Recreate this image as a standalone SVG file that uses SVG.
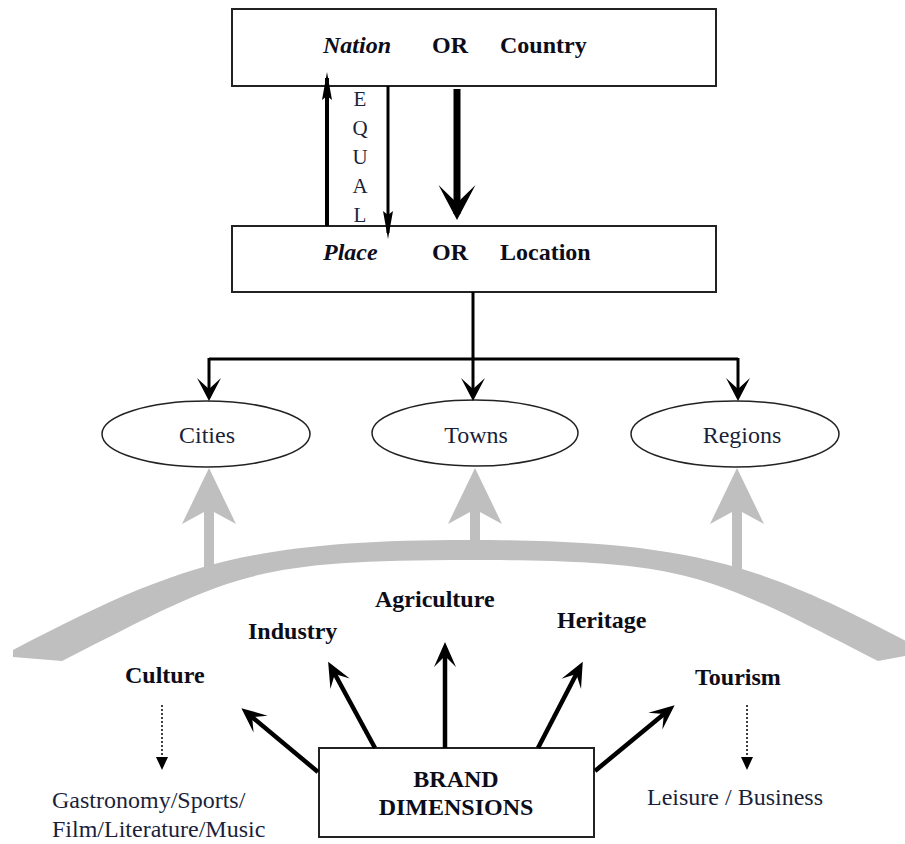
<svg xmlns="http://www.w3.org/2000/svg" width="905" height="844" viewBox="0 0 905 844">
<style>
.box{fill:#fff;stroke:#222;stroke-width:2}
.ell{fill:#fff;stroke:#222;stroke-width:1.5}
.t{font-family:"Liberation Serif","Times New Roman",serif;font-size:24px;fill:#1b1f3a}
.b{font-family:"Liberation Serif","Times New Roman",serif;font-size:24px;font-weight:bold;fill:#0d0d1a}
.bi{font-family:"Liberation Serif","Times New Roman",serif;font-size:24px;font-weight:bold;font-style:italic;fill:#0d0d1a}
.eq{font-family:"Liberation Serif","Times New Roman",serif;font-size:21px;fill:#1b1f3a}
.c{fill:none;stroke:#000}
.gray{fill:#bfbfbf}
</style>
<defs>
<marker id="ah" markerUnits="userSpaceOnUse" viewBox="-20 -15 30 30" markerWidth="30" markerHeight="30" refX="0" refY="0" orient="auto">
<path d="M6,0 L-17,-12 L-6,0 L-17,12 Z" fill="#000"/>
</marker>
<marker id="ah2" markerUnits="userSpaceOnUse" viewBox="-25 -15 35 30" markerWidth="35" markerHeight="30" refX="0" refY="0" orient="auto">
<path d="M6,0 L-19,-11 L-8,0 L-19,11 Z" fill="#000"/>
</marker>
<marker id="ahThin" markerUnits="userSpaceOnUse" viewBox="-25 -8 35 16" markerWidth="35" markerHeight="16" refX="0" refY="0" orient="auto">
<path d="M6,0 L-22,-5 L-18,0 L-22,5 Z" fill="#000"/>
</marker>
<marker id="ahBig" markerUnits="userSpaceOnUse" viewBox="-32 -20 42 40" markerWidth="42" markerHeight="40" refX="0" refY="0" orient="auto">
<path d="M6,0 L-29,-18.5 L-11,0 L-29,18.5 Z" fill="#000"/>
</marker>
<marker id="ahDot" markerUnits="userSpaceOnUse" viewBox="-15 -8 20 16" markerWidth="20" markerHeight="16" refX="0" refY="0" orient="auto">
<path d="M3,0 L-10,-6 L-10,6 Z" fill="#000"/>
</marker>
</defs>

<g id="nation">
<rect class="box" x="232" y="9" width="484" height="77"/>
<text class="bi" x="323" y="53">Nation</text>
<text class="b" x="432" y="53">OR</text>
<text class="b" x="500" y="53">Country</text>
</g>

<g id="place">
<rect class="box" x="232" y="226" width="484" height="66"/>
<text class="bi" x="323" y="260">Place</text>
<text class="b" x="432" y="260">OR</text>
<text class="b" x="500" y="260">Location</text>
</g>

<g id="equal-label">
<text class="eq" x="360" y="106" text-anchor="middle">E</text>
<text class="eq" x="360" y="135" text-anchor="middle">Q</text>
<text class="eq" x="360" y="164" text-anchor="middle">U</text>
<text class="eq" x="360" y="193" text-anchor="middle">A</text>
<text class="eq" x="360" y="222" text-anchor="middle">L</text>
</g>

<g id="cities">
<ellipse class="ell" cx="206" cy="434" rx="104" ry="33"/>
<text class="t" x="207" y="443" text-anchor="middle">Cities</text>
</g>
<g id="towns">
<ellipse class="ell" cx="475" cy="433" rx="103" ry="33"/>
<text class="t" x="476" y="443" text-anchor="middle">Towns</text>
</g>
<g id="regions">
<ellipse class="ell" cx="735" cy="434" rx="104" ry="33"/>
<text class="t" x="742" y="443" text-anchor="middle">Regions</text>
</g>

<g id="brand-arc">
<path class="gray" d="M13,650 C173,567 240,540 470,540 C700,540 767,567 927,652 L878,661 C708,574 690,560 470,560 C250,560 232,574 62,661 L13,657 Z"/>
<path class="gray" d="M209,468 L236,524 L214,512 L214,575 L204,575 L204,512 L182,524 Z"/>
<path class="gray" d="M475,468 L502,524 L480,512 L480,550 L470,550 L470,512 L448,524 Z"/>
<path class="gray" d="M737,468 L764,524 L742,512 L742,578 L732,578 L732,512 L710,524 Z"/>
</g>

<g id="culture"><text class="b" x="125" y="683">Culture</text></g>
<g id="industry"><text class="b" x="248" y="639">Industry</text></g>
<g id="agriculture"><text class="b" x="375" y="607">Agriculture</text></g>
<g id="heritage"><text class="b" x="557" y="628">Heritage</text></g>
<g id="tourism"><text class="b" x="695" y="685">Tourism</text></g>

<g id="culture-sub">
<text class="t" x="52" y="808">Gastronomy/Sports/</text>
<text class="t" x="52" y="837">Film/Literature/Music</text>
</g>
<g id="tourism-sub">
<text class="t" x="647" y="805">Leisure / Business</text>
</g>

<g id="brand">
<rect class="box" x="319" y="748" width="275" height="89"/>
<text class="b" x="456" y="787" text-anchor="middle">BRAND</text>
<text class="b" x="456" y="815" text-anchor="middle">DIMENSIONS</text>
</g>

<g id="connectors">
<line class="c" x1="327" y1="226" x2="327" y2="78" stroke-width="4" marker-end="url(#ahThin)"/>
<line class="c" x1="388" y1="86" x2="388" y2="233" stroke-width="3" marker-end="url(#ahThin)"/>
<line class="c" x1="457" y1="89" x2="457" y2="214" stroke-width="7" marker-end="url(#ahBig)"/>
<polyline class="c" points="473,292 473,359" stroke-width="3"/>
<line class="c" x1="209" y1="359" x2="738" y2="359" stroke-width="3"/>
<line class="c" x1="209" y1="358" x2="209" y2="395" stroke-width="3" marker-end="url(#ah)"/>
<line class="c" x1="473" y1="358" x2="473" y2="395" stroke-width="3" marker-end="url(#ah)"/>
<line class="c" x1="738" y1="358" x2="738" y2="395" stroke-width="3" marker-end="url(#ah)"/>
<line class="c" x1="318" y1="772" x2="246" y2="712" stroke-width="4.5" marker-end="url(#ah2)"/>
<line class="c" x1="375" y1="748" x2="331" y2="667" stroke-width="4.5" marker-end="url(#ah2)"/>
<line class="c" x1="445" y1="748" x2="445" y2="648" stroke-width="4.5" marker-end="url(#ah2)"/>
<line class="c" x1="538" y1="748" x2="580" y2="667" stroke-width="4.5" marker-end="url(#ah2)"/>
<line class="c" x1="595" y1="771" x2="670" y2="709" stroke-width="4.5" marker-end="url(#ah2)"/>
<line class="c" x1="162" y1="705" x2="162" y2="767" stroke-width="1.5" stroke-dasharray="2,2" marker-end="url(#ahDot)"/>
<line class="c" x1="747" y1="705" x2="747" y2="767" stroke-width="1.5" stroke-dasharray="2,2" marker-end="url(#ahDot)"/>
</g>
</svg>
